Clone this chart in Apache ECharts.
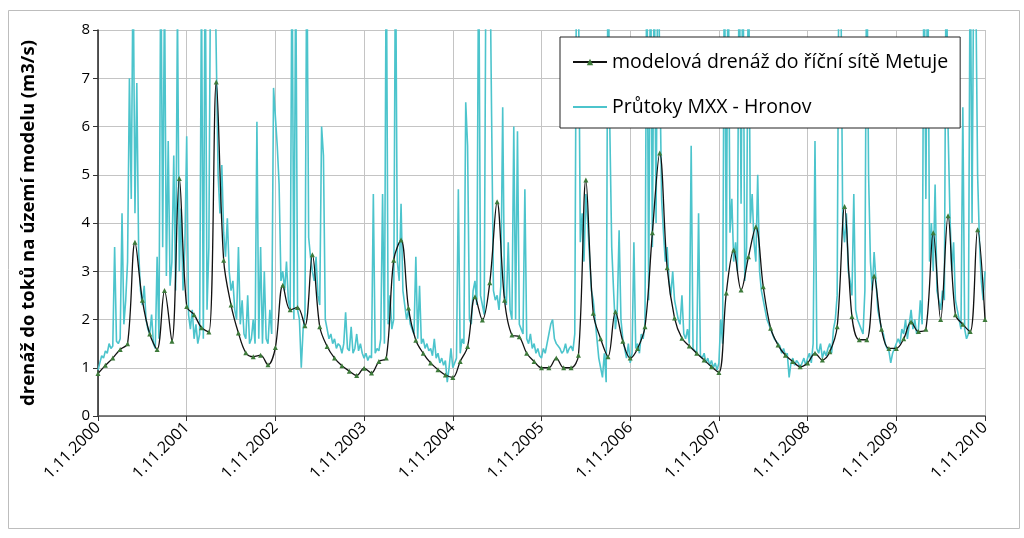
<!DOCTYPE html>
<html><head><meta charset="utf-8">
<script src="https://cdn.jsdelivr.net/npm/echarts@6/dist/echarts.min.js"></script>
<style>html,body{margin:0;padding:0;background:#fff}#c{width:1024px;height:538px}</style>
</head><body><div id="c"></div>
<script>
// x-axis tick labels (one per 12 months, starting 1.11.2000)
const tickLabels = ['1.11.2000','1.11.2001','1.11.2002','1.11.2003','1.11.2004','1.11.2005','1.11.2006','1.11.2007','1.11.2008','1.11.2009','1.11.2010'];
const seriesNames = ['modelová drenáž do říční sítě Metuje','Průtoky MXX - Hronov'];

// monthly model drainage (m3/s), month 0 = 1.11.2000
const model2001 = [0.88,1.05,1.2,1.38,1.5,3.6,2.4,1.7,1.38,2.6,1.55,4.92];
const model2002 = [2.27,2.1,1.83,1.74,6.92,3.23,2.3,1.72,1.31,1.23,1.26,1.06];
const model2003 = [1.42,2.71,2.2,2.25,1.87,3.34,1.85,1.44,1.2,1.04,0.93,0.84];
const model2004 = [0.99,0.89,1.13,1.2,3.23,3.65,2.24,1.57,1.3,1.1,0.96,0.85];
const model2005 = [0.8,1.13,1.44,2.47,1.99,2.76,4.44,2.4,1.68,1.64,1.3,1.13];
const model2006 = [1.0,1.0,1.2,1.0,1.0,1.26,4.89,2.13,1.6,1.23,2.16,1.55];
const model2007 = [1.2,1.4,1.85,3.8,5.45,3.07,2.03,1.61,1.45,1.3,1.16,1.02];
const model2008 = [0.9,2.55,3.44,2.61,3.3,3.92,2.68,1.82,1.47,1.26,1.13,1.02];
const model2009 = [1.1,1.3,1.16,1.33,1.85,4.34,2.06,1.58,1.58,2.9,1.8,1.4];
const model2010 = [1.4,1.6,1.95,1.75,1.8,3.8,2.0,4.15,2.1,1.9,1.75,3.86,2.0];

// observed flows, sampled every quarter month
const flow2001 = [0.95,1.1,1.25,1.2, 1.35,1.3,1.5,1.4, 1.45,3.5,1.55,1.5, 1.6,4.2,1.9,2.4, 3.2,7.0,4.5,9.5, 4.2,6.9,3.4,2.6, 2.3,2.7,2.0,1.8, 1.7,2.1,1.5,1.4, 3.3,1.6,10,3.5, 9.0,2.9,5.7,2.7, 3.2,5.4,2.6,8.5, 3.0,4.3,2.6,3.5];
const flow2002 = [5.8,2.1,1.8,2.2, 1.6,1.9,1.5,1.7, 9.0,1.6,10,2.2, 3.5,10,9.0,10, 10,5.0,4.2,5.2, 3.8,3.3,4.1,3.0, 2.6,2.8,2.2,2.0, 3.5,1.9,2.4,1.7, 1.6,2.5,1.5,1.6, 2.0,1.5,6.1,1.6, 3.5,1.5,3.0,1.6, 1.5,2.2,1.7,6.8];
const flow2003 = [6.8,5.6,4.8,2.8, 3.0,2.6,3.2,2.4, 2.2,10,2.0,9.5, 2.2,2.0,1.0,1.8, 2.1,10,3.7,3.3, 3.0,2.8,3.3,2.5, 2.3,6.0,5.4,2.0, 1.8,1.6,1.7,1.5, 1.6,1.4,1.5,1.45, 1.3,1.5,2.15,1.4, 1.35,1.85,1.3,1.4, 1.7,1.35,1.5,1.3];
const flow2004 = [1.2,1.3,1.15,1.25, 1.2,4.6,1.3,1.4, 1.35,1.6,4.6,1.5, 10,1.9,2.5,1.8, 2.0,10,3.2,2.8, 4.4,2.6,2.3,2.0, 2.2,1.9,1.8,1.7, 3.3,1.6,2.7,1.5, 1.6,1.4,1.5,1.35, 1.4,1.25,1.6,1.2, 1.3,1.1,1.2,1.05, 1.15,0.7,1.0,1.4];
const flow2005 = [1.0,1.1,1.2,4.7, 1.3,1.6,1.5,6.5, 5.6,2.0,1.9,2.6, 2.8,2.3,10,2.5, 2.3,2.1,10,9.5, 10,6.2,2.6,2.4, 2.5,2.2,2.7,6.4, 2.5,2.3,3.6,2.2, 2.0,6.0,2.0,5.9, 1.9,1.8,1.7,4.7, 1.6,1.5,1.7,1.4, 1.5,1.3,1.4,1.25];
const flow2006 = [1.2,1.4,1.3,1.5, 1.7,1.9,2.0,1.6, 1.5,1.45,1.4,1.3, 1.35,1.5,1.3,1.4, 1.45,1.35,1.7,10, 9.0,3.6,4.2,3.2, 4.6,4.0,3.3,2.6, 2.4,2.0,1.6,1.2, 1.0,0.8,1.3,0.7, 10,5.9,3.5,2.6, 1.8,2.2,3.85,2.0, 1.6,1.4,1.2,1.5];
const flow2007 = [1.1,1.3,3.6,1.4, 1.5,1.3,1.7,1.6, 1.9,10,2.4,10, 3.5,9.5,4.0,10, 10,4.5,3.8,3.2, 3.5,2.8,2.5,3.0, 2.4,2.2,2.0,1.9, 2.5,1.7,1.6,1.8, 1.5,5.6,1.4,1.35, 1.3,4.2,1.25,1.2, 1.3,1.1,1.2,1.05, 1.15,1.0,1.1,0.95];
const flow2008 = [1.1,2.0,1.5,10, 3.0,10,3.8,4.5, 3.2,3.6,3.0,10, 4.4,10,2.8,3.5, 10,4.0,4.6,3.6, 3.2,5.0,3.0,2.6, 2.4,2.2,2.0,1.9, 1.8,1.7,1.6,1.55, 1.5,1.45,1.3,1.4, 1.25,1.3,0.8,1.1, 1.2,1.05,1.15,1.1, 1.0,1.1,1.2,1.05];
const flow2009 = [1.2,1.3,1.1,1.5, 5.7,1.4,1.3,1.5, 1.2,1.35,1.25,1.4, 1.5,1.3,1.8,2.0, 2.5,10,9.0,4.0, 3.6,4.2,3.0,2.8, 2.5,4.6,2.2,2.0, 1.9,1.8,1.7,2.6, 10,5.0,3.2,2.6, 3.4,2.8,2.2,2.0, 1.8,1.7,1.5,1.4, 1.35,1.1,1.3,1.4];
const flow2010 = [1.4,1.6,1.5,1.8, 1.7,2.0,1.6,1.9, 2.2,1.8,2.0,1.7, 1.8,2.4,1.9,10, 4.5,10,3.2,4.0, 3.0,4.8,2.6,2.4, 2.2,2.6,2.4,10, 6.0,4.2,3.0,3.6, 2.4,2.2,2.0,1.8, 6.4,1.8,1.6,1.7, 10,4.0,10,9.0, 5.0,3.6,2.8,2.4, 3.0];

const modelVals = [].concat(model2001,model2002,model2003,model2004,model2005,model2006,model2007,model2008,model2009,model2010);
const flowVals = [].concat(flow2001,flow2002,flow2003,flow2004,flow2005,flow2006,flow2007,flow2008,flow2009,flow2010);
const modelData = modelVals.map((v,i)=>[i,v]);
const flowData = flowVals.map((v,i)=>[i*0.25,v]);

const chart = echarts.init(document.getElementById('c'), null, {renderer:'canvas'});
const font = 'Open Sans';
chart.setOption({
  animation:false,
  backgroundColor:'#fff',
  graphic:[{type:'rect',left:6,top:8,shape:{width:1011,height:518},style:{fill:'none',stroke:'#bdbdbd',lineWidth:1}}],
  grid:{left:98,right:39,top:30,bottom:122},
  legend:{
    orient:'vertical',left:560,top:37,
    padding:[15,12,11,12],itemGap:25,itemWidth:34,itemHeight:8,
    backgroundColor:'#fff',borderColor:'#222',borderWidth:1,
    textStyle:{fontFamily:font,fontSize:19.5,color:'#000'},
    data:[{name:seriesNames[0]},{name:seriesNames[1],itemStyle:{opacity:0}}]
  },
  xAxis:{
    type:'value',min:0,max:120,interval:12,
    axisLine:{show:true,lineStyle:{color:'#555',width:1.5}},
    axisTick:{show:true,length:5,lineStyle:{color:'#333'}},
    splitLine:{show:true,lineStyle:{color:'#c4c4c4',width:1}},
    axisLabel:{rotate:45,margin:9,fontFamily:font,fontSize:16,color:'#000',
      formatter:v=>tickLabels[Math.round(v/12)]||''}
  },
  yAxis:{
    type:'value',min:0,max:8,interval:1,
    name:'drenáž do toků na území modelu (m3/s)',nameLocation:'middle',nameGap:60,
    nameTextStyle:{fontFamily:font,fontSize:18.5,fontWeight:'bold',color:'#000'},
    axisLine:{show:true,lineStyle:{color:'#222',width:1.5}},
    axisTick:{show:true,length:5,lineStyle:{color:'#333'}},
    splitLine:{show:true,lineStyle:{color:'#c4c4c4',width:1}},
    axisLabel:{fontFamily:font,fontSize:15,color:'#000',margin:8}
  },
  series:[
    {name:seriesNames[1],type:'line',data:flowData,showSymbol:false,symbol:'none',
     lineStyle:{color:'#4cc4cc',width:1.6},itemStyle:{color:'#4cc4cc'},z:2,clip:true},
    {name:seriesNames[0],type:'line',data:modelData,smooth:0.35,symbol:'triangle',symbolSize:5,
     lineStyle:{color:'#111',width:1.3},itemStyle:{color:'#3d7a3a',borderWidth:0},z:3,clip:true}
  ]
});
</script></body></html>
